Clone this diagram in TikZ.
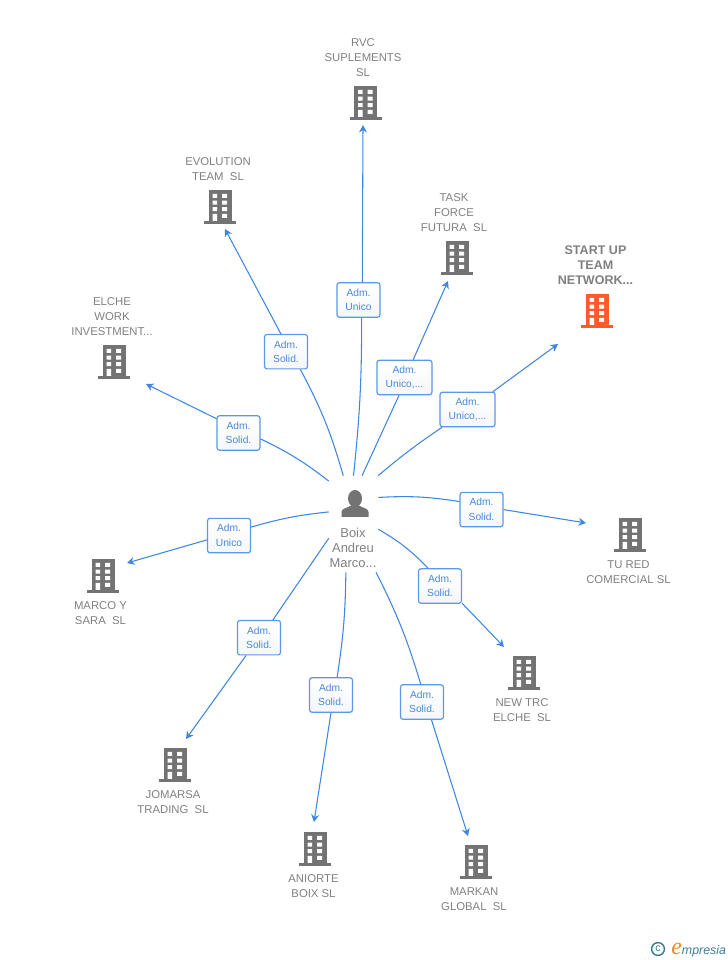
\documentclass[tikz,border=0pt]{standalone}
\usepackage{fontspec}
\setmainfont{Liberation Sans}
\newfontfamily\logofont{Liberation Serif}
\usepackage[HTML]{xcolor}
\usepackage{tikz}
\usetikzlibrary{positioning, arrows, arrows.meta}

\definecolor{linkblue}{HTML}{3F86E3}
\definecolor{roleblue}{HTML}{4A88DC}
\definecolor{boxblue}{HTML}{5B98E9}
\definecolor{boxfill}{HTML}{F4F6F9}
\definecolor{namegrey}{HTML}{808080}
\definecolor{icongrey}{HTML}{737373}
\definecolor{iconorange}{HTML}{FF5A2B}
\definecolor{logoteal}{HTML}{3B7F96}
\definecolor{logoorange}{HTML}{F08A1D}

\tikzset{
  link/.style={draw=linkblue, line width=0.8pt},
  tip/.style={link, -{Stealth[length=5.6pt,width=6pt]}},
  role/.style={draw=boxblue, line width=0.9pt, rounded corners=1.8pt, top color=white, bottom color=boxfill,
    text=roleblue, font=\fontsize{7.7pt}{11pt}\selectfont, align=center, inner sep=0pt,
    minimum width=32.2pt, minimum height=25.8pt},
  wide role/.style={role, minimum width=41.2pt},
  company/.style={text=namegrey, font=\fontsize{8.5pt}{11.25pt}\selectfont, align=center, inner sep=0pt},
  pics/bldg/.style={code={
    \fill[#1] (-11.5,-14) rectangle (11.5,17);
    \fill[#1] (-16,-17) rectangle (16,-14);
    \fill[white] (-7.5,9) rectangle (-3,13) (2,9) rectangle (7,13);
    \fill[white] (-7.5,2.4) rectangle (-3,6.4) (2,2.4) rectangle (7,6.4);
    \fill[white] (-7.5,-4.2) rectangle (-3,-0.2) (2,-4.2) rectangle (7,-0.2);
    \fill[white] (-7.5,-14) rectangle (-3,-7) (2,-11) rectangle (7,-7);
  }}
}

\begin{document}
\begin{tikzpicture}[x=0.75pt, y=0.75pt]
\useasboundingbox (0,0) rectangle (728,960);

% Person
\node[minimum width=36.75pt, minimum height=72pt, inner sep=0pt] (boss) at (353.5,436) {};
\fill[icongrey] (355,461.5) ellipse (7 and 8.5);
\fill[icongrey] (341.5,443) -- (341.5,448) .. controls (341.5,452) and (348,452) .. (351,454.5)
  -- (359,454.5) .. controls (362,452) and (368.5,452) .. (368.5,448) -- (368.5,443) -- cycle;
\node[company, font=\fontsize{9.7pt}{11.25pt}\selectfont] (bossname) at (353,412.5) {Boix\\Andreu\\Marco...};

% Companies
\pic at (365.5,857) {bldg=icongrey};
\pic at (220,753) {bldg=icongrey};
\pic at (457,702) {bldg=icongrey};
\pic at (597,649) {bldg=iconorange};
\pic at (114,598) {bldg=icongrey};
\pic at (630,425) {bldg=icongrey};
\pic at (103,384) {bldg=icongrey};
\pic at (524,287) {bldg=icongrey};
\pic at (175,195) {bldg=icongrey};
\pic at (315,111) {bldg=icongrey};
\pic at (476,98) {bldg=icongrey};

\node[company] (rvc) at (363,902.3) {RVC\\SUPLEMENTS\\SL};
\node[company] (evolution) at (218,790.8) {EVOLUTION\\TEAM\ \ SL};
\node[company] (task) at (454,747.3) {TASK\\FORCE\\FUTURA\ \ SL};
\node[company, font=\bfseries\fontsize{9.4pt}{11.25pt}\selectfont] (startup) at (595.5,694.5) {START UP\\TEAM\\NETWORK...};
\node[company] (elche) at (112,643.3) {ELCHE\\WORK\\INVESTMENT...};
\node[company] (tured) at (628.5,387.8) {TU RED\\COMERCIAL SL};
\node[company] (marco) at (100.5,346.8) {MARCO Y\\SARA\ \ SL};
\node[company] (newtrc) at (522,249.8) {NEW TRC\\ELCHE\ \ SL};
\node[company] (jomarsa) at (173,157.8) {JOMARSA\\TRADING\ \ SL};
\node[company] (aniorte) at (313.5,73.8) {ANIORTE\\BOIX SL};
\node[company] (markan) at (474,60.8) {MARKAN\\GLOBAL\ \ SL};

% Arrow ends
\coordinate (rvcend) at (363,835);
\coordinate (evolutionend) at (225,731);
\coordinate (taskend) at (448,679);
\coordinate (startupend) at (558,616);
\coordinate (elcheend) at (146,576);
\coordinate (turedend) at (586,437);
\coordinate (marcoend) at (127,397);
\coordinate (newtrcend) at (504,313);
\coordinate (jomarsaend) at (186,221);
\coordinate (aniorteend) at (314,138);
\coordinate (markanend) at (468,124);

% Role boxes
\node[role] (rrvc) at (358.5,660) {Adm.\ \\Unico\ };
\node[role] (revolution) at (286,608.3) {Adm.\ \\Solid.\ };
\node[wide role] (rtask) at (404.5,582.5) {Adm.\ \\Unico,...\ };
\node[wide role] (rstartup) at (467.5,550.5) {Adm.\ \\Unico,...\ };
\node[role] (relche) at (238.5,527) {Adm.\ \\Solid.\ };
\node[role] (rtured) at (481.5,450.4) {Adm.\ \\Solid.\ };
\node[role] (rmarco) at (229,424.4) {Adm.\ \\Unico\ };
\node[role] (rnewtrc) at (440,374) {Adm.\ \\Solid.\ };
\node[role] (rjomarsa) at (259,322.3) {Adm.\ \\Solid.\ };
\node[role] (raniorte) at (331,265) {Adm.\ \\Solid.\ };
\node[role] (rmarkan) at (422,258) {Adm.\ \\Solid.\ };

% Links
\draw[link] (boss.90) to[bend right=3] (rrvc.-80);
\draw[tip] (rrvc.78) -- (rvcend);
\draw[link] (boss.102) to[bend right=6] (revolution.-51);
\draw[tip] (revolution.106) -- (evolutionend);
\draw[link] (boss.80) -- (rtask.-107);
\draw[tip] (rtask.64) -- (taskend);
\draw[link] (boss.63) to[bend left=3] (rstartup.215);
\draw[tip] (rstartup.35) -- (startupend);
\draw[link] (boss.120) to[bend right=6] (relche.-15.6);
\draw[tip] (relche.147.5) -- (elcheend);
\draw[link] (boss.47.8) to[bend left=6] (rtured.160);
\draw[tip] (rtured.0) -- (turedend);
\draw[link] (boss.154) to[bend right=5] (rmarco.21);
\draw[tip] (rmarco.191.5) -- (marcoend);
\draw[link] (boss.-12) to[bend left=8] (rnewtrc.124.5);
\draw[tip] (rnewtrc.-38.5) -- (newtrcend);
\draw[link] (boss.210) -- (rjomarsa.52);
\draw[tip] (rjomarsa.234.7) -- (jomarsaend);
\draw[link] (boss.261) to[bend left=4] (raniorte.71.8);
\draw[tip] (raniorte.-90) -- (aniorteend);
\draw[link] (boss.-65) to[bend left=5] (rmarkan.94);
\draw[tip] (rmarkan.-62) -- (markanend);

% Logo
\node[circle, draw=logoteal, line width=1.1pt, text=logoteal, inner sep=0pt, minimum size=9.6pt,
  font=\fontsize{8pt}{8pt}\selectfont] (logoc) at (658,11) {c};
\node[anchor=base west, inner sep=0pt, text=logoteal, font=\itshape\fontsize{9.3pt}{10pt}\selectfont] (logotext) at (671,6)
  {{\color{logoorange}\logofont\fontsize{18pt}{18pt}\selectfont e}mpresia};
\end{tikzpicture}
\end{document}
